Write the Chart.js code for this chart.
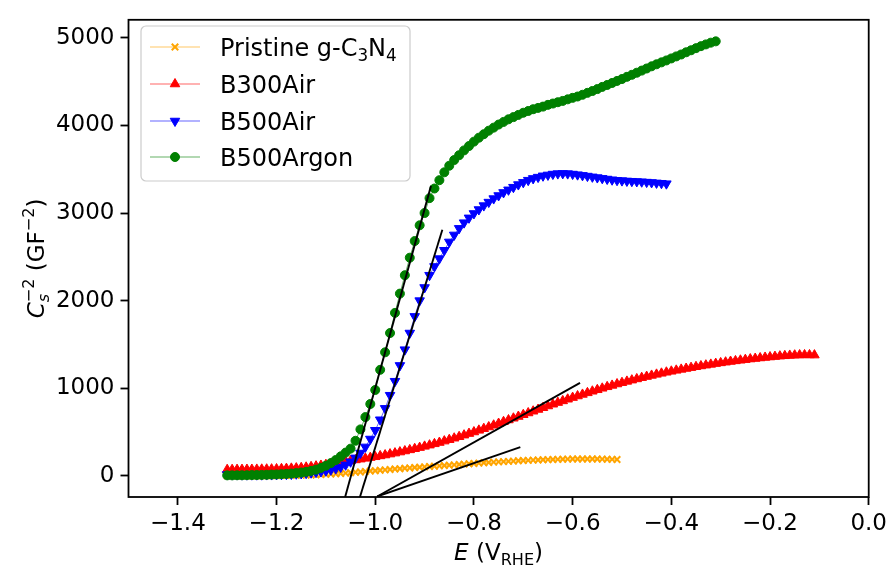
<!DOCTYPE html>
<html>
<head>
<meta charset="utf-8">
<script src="https://cdn.jsdelivr.net/npm/chart.js@4.4.1/dist/chart.umd.min.js"></script>
<style>
  html, body { margin: 0; padding: 0; background: #fff; }
  #wrap { width: 892px; height: 570px; }
</style>
</head>
<body>
<div id="wrap"><canvas id="chart-ms"></canvas></div>
<script>
// applied potential (V vs RHE), shared by all four sweeps
const potential = [
  -1.30, -1.29, -1.28, -1.27, -1.26, -1.25, -1.24, -1.23, -1.22, -1.21,
  -1.20, -1.19, -1.18, -1.17, -1.16, -1.15, -1.14, -1.13, -1.12, -1.11,
  -1.10, -1.09, -1.08, -1.07, -1.06, -1.05, -1.04, -1.03, -1.02, -1.01,
  -1.00, -0.99, -0.98, -0.97, -0.96, -0.95, -0.94, -0.93, -0.92, -0.91,
  -0.90, -0.89, -0.88, -0.87, -0.86, -0.85, -0.84, -0.83, -0.82, -0.81,
  -0.80, -0.79, -0.78, -0.77, -0.76, -0.75, -0.74, -0.73, -0.72, -0.71,
  -0.70, -0.69, -0.68, -0.67, -0.66, -0.65, -0.64, -0.63, -0.62, -0.61,
  -0.60, -0.59, -0.58, -0.57, -0.56, -0.55, -0.54, -0.53, -0.52, -0.51,
  -0.50, -0.49, -0.48, -0.47, -0.46, -0.45, -0.44, -0.43, -0.42, -0.41,
  -0.40, -0.39, -0.38, -0.37, -0.36, -0.35, -0.34, -0.33, -0.32, -0.31,
  -0.30, -0.29, -0.28, -0.27, -0.26, -0.25, -0.24, -0.23, -0.22, -0.21,
  -0.20, -0.19, -0.18, -0.17, -0.16, -0.15, -0.14, -0.13, -0.12, -0.11
];

// C^-2 values (GF^-2), each sweep starts at -1.30 V
const pristine = [
  2, 2, 2, 2, 3, 3, 3, 3, 4, 4,
  4, 5, 5, 6, 7, 8, 9, 10, 12, 14,
  17, 20, 23, 27, 31, 35, 40, 44, 49, 54,
  58, 63, 68, 72, 77, 81, 86, 90, 94, 98,
  102, 106, 110, 113, 117, 121, 125, 129, 133, 137,
  141, 145, 149, 152, 156, 159, 162, 165, 168, 171,
  174, 176, 179, 181, 183, 185, 187, 188, 189, 190,
  191, 191, 192, 192, 191, 191, 190, 189, 188, 187
];
const b300Air = [
  70, 70, 71, 71, 72, 72, 73, 74, 75, 76,
  78, 80, 82, 85, 88, 92, 97, 103, 110, 118,
  127, 136, 145, 154, 163, 172, 181, 190, 199, 208,
  217, 227, 237, 248, 259, 271, 283, 296, 309, 322,
  336, 350, 365, 380, 396, 412, 429, 446, 464, 482,
  500, 519, 538, 557, 577, 597, 617, 637, 657, 677,
  697, 717, 737, 757, 777, 797, 817, 836, 855, 874,
  893, 911, 929, 947, 965, 982, 999, 1016, 1032, 1048,
  1063, 1078, 1092, 1106, 1120, 1133, 1146, 1158, 1170, 1182,
  1193, 1204, 1215, 1225, 1235, 1245, 1254, 1263, 1272, 1281,
  1289, 1297, 1305, 1312, 1319, 1326, 1333, 1339, 1345, 1351,
  1356, 1361, 1366, 1370, 1374, 1377, 1379, 1380, 1380, 1378
];
const b500Air = [
  15, 14, 14, 13, 13, 13, 13, 13, 14, 14,
  15, 16, 18, 20, 23, 26, 30, 35, 41, 48,
  57, 68, 82, 100, 125, 160, 205, 260, 330, 420,
  520, 640, 770, 920, 1080, 1260, 1440, 1630, 1820, 2000,
  2150, 2290, 2390, 2480, 2575, 2670, 2750, 2825, 2890, 2945,
  2995, 3040, 3085, 3125, 3165, 3200, 3235, 3265, 3295, 3325,
  3350, 3375, 3395, 3410, 3425, 3435, 3445, 3450, 3452, 3450,
  3445, 3438, 3430, 3422, 3413, 3405, 3396, 3388, 3380, 3374,
  3370, 3366, 3363, 3360, 3357, 3353, 3349, 3344, 3340, 3335
];
const b500Argon = [
  5, 5, 6, 6, 7, 8, 9, 10, 12, 14,
  16, 19, 22, 26, 31, 37, 45, 56, 70, 90,
  115, 145, 180, 222, 265, 310, 400, 530, 670, 820,
  980, 1210, 1410, 1630, 1860, 2080, 2290, 2490, 2680, 2860,
  3000, 3170, 3280, 3375, 3465, 3540, 3605, 3660, 3715, 3765,
  3815, 3860, 3900, 3940, 3975, 4010, 4040, 4070, 4095, 4120,
  4145, 4165, 4185, 4200, 4215, 4235, 4250, 4265, 4280, 4298,
  4315, 4330, 4350, 4372, 4393, 4415, 4440, 4462, 4485, 4508,
  4530, 4555, 4578, 4602, 4626, 4650, 4675, 4698, 4720, 4742,
  4765, 4788, 4810, 4835, 4858, 4882, 4905, 4925, 4945, 4960
];

// linear fits of the depletion region (two end points each)
const fitArgonE = [-1.061, -0.887];
const fitArgonC = [-242, 3310];
const fitB500E = [-1.031, -0.864];
const fitB500C = [-242, 2810];
const fitB300E = [-0.996, -0.585];
const fitB300C = [-236, 1061];
const fitPristineE = [-0.996, -0.706];
const fitPristineC = [-236, 328];

const xTicks = [-1.4, -1.2, -1.0, -0.8, -0.6, -0.4, -0.2, 0.0];
const yTicks = [0, 1000, 2000, 3000, 4000, 5000];

const FONT = '"DejaVu Sans", sans-serif';

const pts = ys => ys.map((y, i) => ({ x: potential[i], y: y }));
const pair = (es, cs) => es.map((e, i) => ({ x: e, y: cs[i] }));

function series(label, rich, values, color, lineColor, style, radius, rotation, order) {
  return {
    label: label,
    rich: rich,
    data: pts(values),
    showLine: true,
    borderColor: lineColor,
    borderWidth: 1,
    pointStyle: style,
    pointRotation: rotation,
    pointRadius: radius,
    pointBackgroundColor: color,
    pointBorderColor: color,
    pointBorderWidth: style === 'crossRot' ? 2 : 1,
    order: order
  };
}

function fitLine(es, cs) {
  return {
    label: '',
    isFit: true,
    data: pair(es, cs),
    showLine: true,
    borderColor: '#000',
    borderWidth: 1.9,
    pointRadius: 0,
    order: 0
  };
}

const datasets = [
  series('Pristine g-C3N4',
    [{ text: 'Pristine g-C' }, { text: '3', sub: true }, { text: 'N' }, { text: '4', sub: true }],
    pristine, '#FFA500', 'rgba(255,165,0,0.6)', 'crossRot', 4.6, 0, 4),
  series('B300Air', null, b300Air, '#FF0000', 'rgba(255,0,0,0.6)', 'triangle', 5.5, 0, 3),
  series('B500Air', null, b500Air, '#0000FF', 'rgba(0,0,255,0.6)', 'triangle', 5.5, 180, 2),
  series('B500Argon', null, b500Argon, '#008000', 'rgba(0,128,0,0.6)', 'circle', 4.5, 0, 1),
  fitLine(fitArgonE, fitArgonC),
  fitLine(fitB500E, fitB500C),
  fitLine(fitB300E, fitB300C),
  fitLine(fitPristineE, fitPristineC)
];

// text with italic / sub / superscript pieces, baseline at y = 0
function drawRich(ctx, runs, size, align) {
  const small = size * 0.7;
  const fontOf = (italic, sz) => (italic ? 'oblique ' : '') + sz + 'px ' + FONT;
  let total = 0;
  runs.forEach(r => {
    if (r.stack) {
      ctx.font = fontOf(r.subItalic, small);
      const a = ctx.measureText(r.sub).width;
      ctx.font = fontOf(false, small);
      const b = ctx.measureText(r.sup).width;
      r.w = Math.max(a, b);
    } else {
      ctx.font = fontOf(r.italic, r.sub || r.sup ? small : size);
      r.w = ctx.measureText(r.text).width;
    }
    total += r.w;
  });
  let x = align === 'left' ? 0 : -total / 2;
  ctx.textBaseline = 'alphabetic';
  ctx.textAlign = 'left';
  runs.forEach(r => {
    if (r.stack) {
      ctx.font = fontOf(r.subItalic, small);
      ctx.fillText(r.sub, x, size * 0.22);
      ctx.font = fontOf(false, small);
      ctx.fillText(r.sup, x, -size * 0.42);
    } else {
      ctx.font = fontOf(r.italic, r.sub || r.sup ? small : size);
      const dy = r.sup ? -size * 0.42 : r.sub ? size * 0.22 : 0;
      ctx.fillText(r.text, x, dy);
    }
    x += r.w;
  });
}

function drawMarker(ctx, ds, x, y) {
  ctx.save();
  ctx.fillStyle = ds.pointBackgroundColor;
  ctx.strokeStyle = ds.pointBorderColor;
  ctx.lineWidth = ds.pointBorderWidth;
  Chart.helpers.drawPoint(ctx, {
    pointStyle: ds.pointStyle,
    rotation: ds.pointRotation,
    radius: ds.pointRadius,
    borderWidth: ds.pointBorderWidth
  }, x, y);
  ctx.restore();
}

const frame = {
  id: 'frame',
  afterDatasetsDraw(chart) {
    const { ctx, chartArea: a } = chart;
    ctx.save();
    ctx.strokeStyle = '#000';
    ctx.lineWidth = 1.8;
    ctx.strokeRect(a.left, a.top, a.right - a.left, a.bottom - a.top);
    ctx.restore();
  },
  afterDraw(chart) {
    const { ctx, chartArea: a } = chart;
    ctx.save();
    ctx.fillStyle = '#000';

    // axis titles
    ctx.save();
    ctx.translate((a.left + a.right) / 2, 560);
    drawRich(ctx, [
      { text: 'E', italic: true },
      { text: ' (V' },
      { text: 'RHE', sub: true },
      { text: ')' }
    ], 23, 'center');
    ctx.restore();

    ctx.save();
    ctx.translate(44, (a.top + a.bottom) / 2);
    ctx.rotate(-Math.PI / 2);
    drawRich(ctx, [
      { text: 'C', italic: true },
      { stack: true, sub: 's', subItalic: true, sup: '\u22122' },
      { text: ' (GF' },
      { text: '\u22122', sup: true },
      { text: ')' }
    ], 23, 'center');
    ctx.restore();

    // legend box
    const bx = 141, by = 26, bw = 269, bh = 155, r = 5;
    ctx.beginPath();
    ctx.moveTo(bx + r, by);
    ctx.arcTo(bx + bw, by, bx + bw, by + bh, r);
    ctx.arcTo(bx + bw, by + bh, bx, by + bh, r);
    ctx.arcTo(bx, by + bh, bx, by, r);
    ctx.arcTo(bx, by, bx + bw, by, r);
    ctx.closePath();
    ctx.fillStyle = 'rgba(255,255,255,0.8)';
    ctx.fill();
    ctx.strokeStyle = '#cccccc';
    ctx.lineWidth = 1.2;
    ctx.stroke();

    const rows = [47, 84, 121, 157];
    chart.data.datasets.filter(d => !d.isFit).forEach((ds, i) => {
      const y = rows[i];
      ctx.strokeStyle = ds.borderColor;
      ctx.lineWidth = 1.2;
      ctx.beginPath();
      ctx.moveTo(150, y);
      ctx.lineTo(200, y);
      ctx.stroke();
      drawMarker(ctx, ds, 175, y);
      ctx.fillStyle = '#000';
      ctx.save();
      ctx.translate(220, y + 8.8);
      drawRich(ctx, ds.rich || [{ text: ds.label }], 24, 'left');
      ctx.restore();
    });
    ctx.restore();
  }
};

const minusFmt = v => (v < 0 ? '\u2212' + Math.abs(v).toFixed(1) : v.toFixed(1));

new Chart(document.getElementById('chart-ms'), {
  type: 'scatter',
  data: { datasets: datasets },
  options: {
    responsive: true,
    maintainAspectRatio: false,
    animation: false,
    layout: { padding: { top: 14, right: 20, left: 0, bottom: 0 } },
    plugins: {
      legend: { display: false },
      tooltip: { enabled: false }
    },
    scales: {
      x: {
        type: 'linear',
        min: -1.5,
        max: 0,
        afterBuildTicks: s => { s.ticks = xTicks.map(v => ({ value: v })); },
        afterFit: s => { s.height = 73; },
        ticks: {
          callback: v => minusFmt(v),
          autoSkip: false,
          maxRotation: 0,
          padding: 5,
          color: '#000',
          font: { family: FONT, size: 23 }
        },
        grid: { display: true, drawOnChartArea: false, tickLength: 8, tickWidth: 1.8, tickColor: '#000' },
        border: { display: false }
      },
      y: {
        type: 'linear',
        min: -242,
        max: 5206,
        afterBuildTicks: s => { s.ticks = yTicks.map(v => ({ value: v })); },
        afterFit: s => { s.width = 128.5; },
        ticks: {
          callback: v => String(v),
          autoSkip: false,
          padding: 6,
          color: '#000',
          font: { family: FONT, size: 23 }
        },
        grid: { display: true, drawOnChartArea: false, tickLength: 8, tickWidth: 1.8, tickColor: '#000' },
        border: { display: false }
      }
    }
  },
  plugins: [frame]
});
</script>
</body>
</html>
